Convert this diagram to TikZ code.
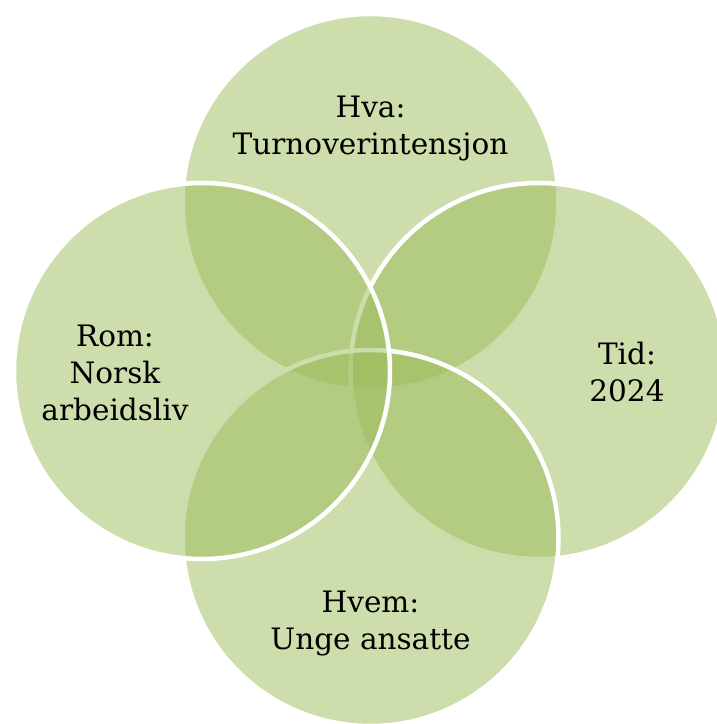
\documentclass[tikz,border=0pt]{standalone}
\usepackage{fontspec}
\setmainfont{DejaVu Serif}
\usetikzlibrary{positioning}
\definecolor{myolive}{RGB}{155,187,89}

\begin{document}
\begin{tikzpicture}[
  x=1pt, y=-1pt,
  mycircle/.style={
    circle,
    draw=white,
    line width=4.5pt,
    fill=myolive,
    fill opacity=0.5,
    minimum size=376pt,
    inner sep=0pt
    },
  mylabel/.style={
    align=center,
    font=\fontsize{29.5}{37}\selectfont,
    text=black,
    inner sep=0pt
    }
]
\useasboundingbox (0,0) rectangle (717,724);
\clip (0,0) rectangle (717,724);
\node [mycircle] (hva) at (370.5,202) {};
\node [mycircle] (tid) at (538.5,371) {};
\node [mycircle] (hvem) at (370.5,538) {};
\node [mycircle] (rom) at (202,371) {};

\node [mylabel] (hvatext) at (370.5,128.5) {Hva:\\Turnoverintensjon};
\node [mylabel] (tidtext) at (627,372) {Tid:\\2024};
\node [mylabel] (hvemtext) at (370.5,624) {Hvem:\\Unge ansatte};
\node [mylabel] (romtext) at (115,373) {Rom:\\Norsk\\arbeidsliv};
\end{tikzpicture}
\end{document}
